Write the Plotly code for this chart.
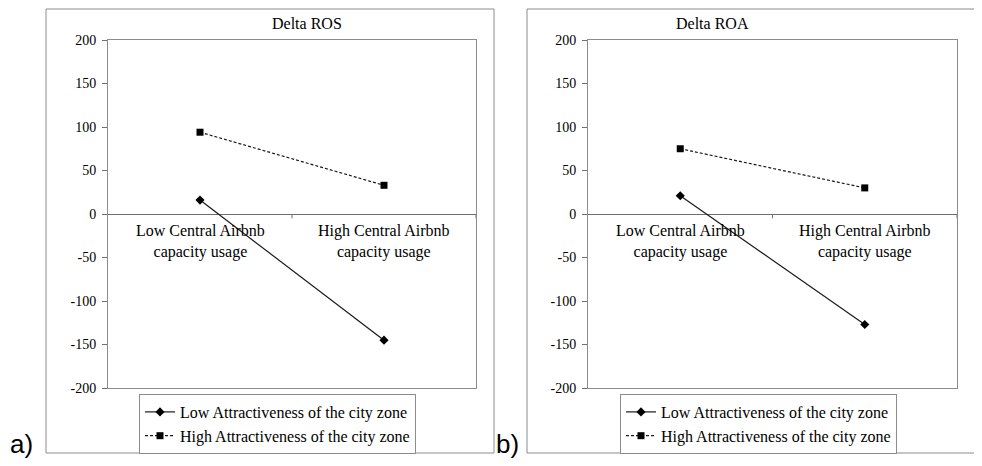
import plotly.graph_objects as go

categories = ["Low Central Airbnb<br>capacity usage", "High Central Airbnb<br>capacity usage"]
series_names = ["Low Attractiveness of the city zone", "High Attractiveness of the city zone"]
ros_low = [16, -145]
ros_high = [94, 33]
roa_low = [21, -127]
roa_high = [75, 30]
panel_titles = ["Delta ROS", "Delta ROA"]
panel_labels = ["a)", "b)"]
y_ticks = [-200, -150, -100, -50, 0, 50, 100, 150, 200]
y_ticktext = [str(v) for v in y_ticks]

# page puts the figure 8px from the top-left corner of a 982x466 window
OFF = 8
W, H = 982 - OFF, 466 - OFF
FONT = "Liberation Serif, Times New Roman, serif"
GRAY = "#8c8c8c"

def px(x):
    return (x - OFF) / W

def py(y):
    return (H - (y - OFF)) / H

fig = go.Figure()
xpos = [0, 1]

panels = [
    dict(low=ros_low, high=ros_high, xa="x", ya="y", legend="legend"),
    dict(low=roa_low, high=roa_high, xa="x2", ya="y2", legend="legend2"),
]
for p in panels:
    fig.add_trace(go.Scatter(
        x=xpos, y=p["low"], name=series_names[0], mode="lines+markers",
        line=dict(color="#1a1a1a", width=1.2),
        marker=dict(symbol="diamond", size=7, color="black"),
        xaxis=p["xa"], yaxis=p["ya"], legend=p["legend"]))
    fig.add_trace(go.Scatter(
        x=xpos, y=p["high"], name=series_names[1], mode="lines+markers",
        line=dict(color="#1a1a1a", width=1.2, dash="3px,2px"),
        marker=dict(symbol="square", size=7, color="black"),
        xaxis=p["xa"], yaxis=p["ya"], legend=p["legend"]))

plot_x = [(108, 476), (588, 957)]
outer = [(46, 494), (527, 975)]
ydom = [py(388), py(40)]

xaxis_common = dict(range=[-0.5, 1.5], showticklabels=False, showgrid=False,
                    zeroline=False, showline=True, mirror=True, linecolor=GRAY,
                    linewidth=1, ticks="", fixedrange=True, automargin=False)
yaxis_common = dict(range=[-200, 200], tickvals=y_ticks, ticktext=y_ticktext,
                    showgrid=False, zeroline=True, zerolinecolor="#6e6e6e",
                    zerolinewidth=1, showline=True, mirror=True, linecolor=GRAY,
                    linewidth=1, ticks="outside", ticklen=5, tickcolor="#6e6e6e",
                    ticklabelstandoff=3, automargin=False,
                    tickfont=dict(family=FONT, size=14, color="black"), fixedrange=True)

fig.update_layout(
    xaxis=dict(domain=[px(plot_x[0][0]), px(plot_x[0][1])], anchor="y", **xaxis_common),
    yaxis=dict(domain=ydom, anchor="x", **yaxis_common),
    xaxis2=dict(domain=[px(plot_x[1][0]), px(plot_x[1][1])], anchor="y2", **xaxis_common),
    yaxis2=dict(domain=ydom, anchor="x2", **yaxis_common),
)

shapes = []
annotations = []
for i in range(2):
    xr = "x" if i == 0 else "x2"
    yr = "y" if i == 0 else "y2"
    shapes.append(dict(type="rect", xref="paper", yref="paper",
                       x0=px(outer[i][0]), x1=px(outer[i][1]), y0=py(453), y1=py(9),
                       line=dict(color=GRAY, width=1), layer="below"))
    for xv in [0.5, 1.5]:
        shapes.append(dict(type="line", xref=xr, yref=yr, x0=xv, x1=xv, y0=0, y1=-5,
                           line=dict(color="#6e6e6e", width=1)))
    for j, c in enumerate(categories):
        annotations.append(dict(x=xpos[j], y=0, xref=xr, yref=yr, text=c,
                                showarrow=False, yanchor="top", yshift=-6,
                                font=dict(family=FONT, size=16, color="black")))
    annotations.append(dict(x=px((outer[i][0] + outer[i][1]) / 2), y=py(23.5),
                            xref="paper", yref="paper", text=panel_titles[i],
                            showarrow=False, yanchor="middle",
                            font=dict(family=FONT, size=16, color="black")))
    annotations.append(dict(x=px([8, 494][i]), y=py(444), xref="paper", yref="paper",
                            text=panel_labels[i], showarrow=False, xanchor="left",
                            yanchor="middle",
                            font=dict(family="Liberation Sans, Arial, sans-serif",
                                      size=26, color="black")))

legend_common = dict(bgcolor="white", bordercolor=GRAY, borderwidth=1,
                     font=dict(family=FONT, size=16, color="black"),
                     itemwidth=30, tracegroupgap=0, yanchor="top", xanchor="left",
                     traceorder="normal")
fig.update_layout(
    legend=dict(x=px(139), y=py(394), **legend_common),
    legend2=dict(x=px(620), y=py(394), **legend_common),
    shapes=shapes, annotations=annotations,
    width=W, height=H, margin=dict(l=0, r=0, t=0, b=0, autoexpand=False),
    paper_bgcolor="white", plot_bgcolor="white", showlegend=True,
)

fig.write_html("out.html")
